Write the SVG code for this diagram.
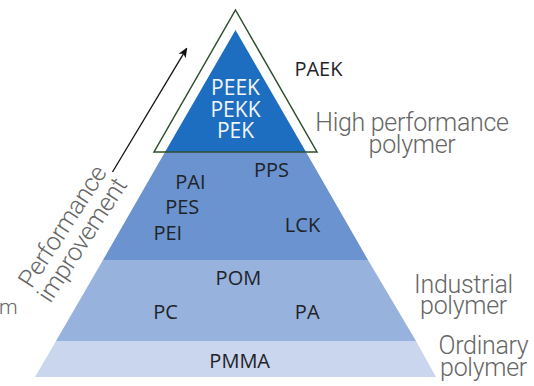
<svg xmlns="http://www.w3.org/2000/svg" width="534" height="386" viewBox="0 0 534 386">
<style>
.lbl{font-family:"Open Sans","Noto Sans","DejaVu Sans",sans-serif;font-size:20px;fill:#1f2328;text-anchor:middle}
.wl{fill:#f2f6fc;font-size:21px}
.cap{font-family:Roboto,"Liberation Sans",sans-serif;font-weight:300;font-size:25px;fill:#666;text-anchor:middle;letter-spacing:-0.3px}
</style>
<defs>
<marker id="ah" markerWidth="10" markerHeight="10" refX="9" refY="5" orient="auto" markerUnits="userSpaceOnUse">
<path d="M0,0.8 L10,5 L0,9.2 L2.5,5 Z" fill="#111"/>
</marker>
</defs>
<rect width="534" height="386" fill="#fff"/>
<g id="tier-ordinary">
<polygon points="56,341 416,341 436,377 35,377" fill="#c9d6ee"/>
<text class="lbl" x="239.7" y="368.3">PMMA</text>
</g>
<g id="tier-industrial">
<polygon points="103,260 368,260 416,341 56,341" fill="#97b2dd"/>
<text class="lbl" x="238.4" y="285">POM</text>
<text class="lbl" x="165.5" y="319">PC</text>
<text class="lbl" x="307.2" y="319">PA</text>
</g>
<g id="tier-special">
<polygon points="165,152 306,152 368,260 103,260" fill="#6a93cf"/>
<text class="lbl" x="271.4" y="176.7">PPS</text>
<text class="lbl" x="190.4" y="189.3">PAI</text>
<text class="lbl" x="182.2" y="214.3">PES</text>
<text class="lbl" x="167.8" y="240">PEI</text>
<text class="lbl" x="302.5" y="231.7">LCK</text>
</g>
<g id="tier-high">
<polygon points="235.5,30 306,152 165,152" fill="#1d6ec1"/>
<polygon points="235.5,10 317,152 154,152" fill="none" stroke="#2f4f2f" stroke-width="1.5" stroke-linejoin="miter"/>
<text class="lbl wl" x="235.5" y="95">PEEK</text>
<text class="lbl wl" x="235.5" y="116.5">PEKK</text>
<text class="lbl wl" x="235.5" y="138">PEK</text>
</g>
<g id="label-paek">
<text class="lbl" x="318.4" y="76">PAEK</text>
</g>
<g id="label-high">
<text class="cap" x="412" y="130.7">High performance</text>
<text class="cap" x="412" y="153.3">polymer</text>
</g>
<g id="label-industrial">
<text class="cap" x="463.5" y="292.7">Industrial</text>
<text class="cap" x="463.5" y="314">polymer</text>
</g>
<g id="label-ordinary">
<text class="cap" x="483.5" y="354">Ordinary</text>
<text class="cap" x="483.5" y="376">polymer</text>
</g>
<g id="label-improvement">
<text class="cap" transform="translate(69.5,231) rotate(-57)">Performance</text>
<text class="cap" transform="translate(89,244.5) rotate(-57)">improvement</text>
</g>
<g id="label-m">
<text class="cap" x="-1" y="314.3" style="text-anchor:start;font-size:21px">m</text>
</g>
<g id="connectors">
<line x1="112.5" y1="172" x2="186.7" y2="48.3" stroke="#111" stroke-width="1.3" marker-end="url(#ah)"/>
</g>
</svg>
